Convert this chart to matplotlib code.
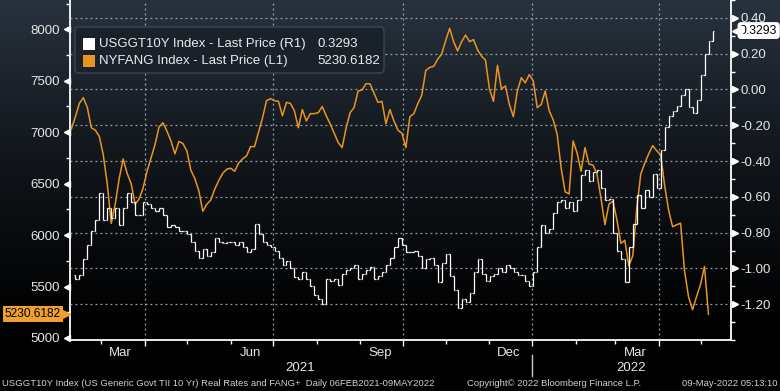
import numpy as np
import pandas as pd
import matplotlib
matplotlib.use("Agg")
import matplotlib.pyplot as plt
import matplotlib.dates as mdates
from matplotlib.patches import FancyBboxPatch, Rectangle
from matplotlib.transforms import blended_transform_factory as btf, offset_copy, IdentityTransform
from matplotlib.ticker import MultipleLocator, FixedLocator

plt.rcParams['font.family'] = ['Liberation Sans', 'DejaVu Sans']
plt.rcParams['axes.unicode_minus'] = False

# ---------------- data ----------------
usggt_start, usggt_end = '2021-02-08', '2022-05-09'
nyfang_start, nyfang_end = '2021-02-08', '2022-05-06'

nyfang = [7033, 7150, 7280, 7336, 7240, 7043, 7020, 6960, 6780, 6500,
          6114, 6300, 6550, 6740, 6600, 6500, 6300, 6350, 6456, 6620,
          6750, 6880, 7050, 7092, 7010, 6915, 6789, 6910, 6890, 6818,
          6630, 6550, 6430, 6232, 6300, 6340, 6446, 6530, 6600, 6640,
          6650, 6620, 6700, 6740, 6770, 6860, 6860, 7000, 7140, 7306,
          7326, 7306, 7300, 7160, 7290, 7280, 7209, 7043, 7220, 7110,
          7180, 7180, 7190, 7250, 7160, 7080, 6990, 6900, 6850, 7043,
          7190, 7240, 7400, 7410, 7472, 7470, 7380, 7290, 7300, 7082,
          7220, 7110, 7020, 6990, 6850, 7150, 7180, 7277, 7360, 7600,
          7630, 7640, 7710, 7760, 7890, 8010, 7880, 7790, 7880, 7945,
          7880, 7900, 7800, 7740, 7700, 7420, 7300, 7650, 7420, 7450,
          7270, 7150, 7400, 7530, 7480, 7560, 7500, 7238, 7270, 7400,
          7209, 7120, 6980, 6652, 6420, 6400, 6915, 6800, 6620, 6850,
          6690, 6680, 6593, 6360, 6100, 6300, 6330, 6150, 5920, 5950,
          5700, 5800, 6261, 6593, 6700, 6789, 6870, 6820, 6780, 6480,
          6240, 6080, 6100, 6115, 5650, 5400, 5274, 5400, 5519, 5694,
          5230.6182]

usggt = [-1.035, -1.06, -1.035, -0.945, -0.87, -0.79, -0.73, -0.58, -0.73, -0.66,
         -0.72, -0.66, -0.76, -0.66, -0.58, -0.63, -0.70, -0.70, -0.63, -0.64,
         -0.66, -0.68, -0.66, -0.70, -0.77, -0.76, -0.77, -0.79, -0.79, -0.81,
         -0.85, -0.90, -0.94, -0.89, -0.93, -0.91, -0.83, -0.85, -0.86, -0.85,
         -0.85, -0.87, -0.85, -0.88, -0.91, -0.89, -0.75, -0.81, -0.85, -0.87,
         -0.88, -0.90, -0.94, -0.98, -0.96, -1.00, -1.05, -1.06, -1.02, -1.06,
         -1.10, -1.15, -1.17, -1.20, -1.06, -1.07, -1.06, -1.09, -1.03, -1.01,
         -1.00, -0.98, -1.06, -1.03, -1.01, -0.99, -1.06, -1.04, -1.02, -0.98,
         -0.94, -0.88, -0.83, -0.87, -0.91, -0.91, -0.90, -0.93, -1.00, -0.95,
         -0.94, -0.98, -1.075, -0.97, -0.92, -1.04, -1.12, -1.22, -1.17, -1.19,
         -1.14, -1.02, -0.945, -1.03, -1.07, -1.04, -1.03, -1.00, -1.02, -0.98,
         -1.00, -1.02, -1.035, -1.035, -1.07, -1.10, -1.02, -0.88, -0.76, -0.80,
         -0.78, -0.69, -0.63, -0.62, -0.66, -0.63, -0.68, -0.62, -0.48, -0.45,
         -0.51, -0.46, -0.45, -0.55, -0.62, -0.61, -0.80, -0.90, -0.95, -1.075,
         -0.88, -0.75, -0.59, -0.66, -0.56, -0.60, -0.47, -0.55, -0.34, -0.21,
         -0.15, -0.12, -0.09, -0.03, 0.00, -0.10, -0.13, -0.06, 0.08, 0.20,
         0.27, 0.3293]

left_ticks = [5000, 5500, 6000, 6500, 7000, 7500, 8000]
right_ticks = [0.40, 0.20, 0.00, -0.20, -0.40, -0.60, -0.80, -1.00, -1.20]
month_labels = ['Mar', 'Jun', 'Sep', 'Dec', 'Mar']
month_label_dates = ['2021-03-15', '2021-06-15', '2021-09-15', '2021-12-15', '2022-03-15']
year_labels = ['2021', '2022']
year_label_dates = ['2021-07-20', '2022-03-12']
year_break = '2022-01-01'
quarter_starts = ['2021-04-01', '2021-07-01', '2021-10-01', '2022-01-01', '2022-04-01']
x_range = ('2021-02-07', '2022-05-22')

legend_rows = [('USGGT10Y Index - Last Price (R1)', f'{usggt[-1]:.4f}', 'white'),
               ('NYFANG Index - Last Price (L1)', f'{nyfang[-1]:.4f}', '#e8951f')]
footer_left = 'USGGT10Y Index (US Generic Govt TII 10 Yr) Real Rates and FANG+  Daily 06FEB2021-09MAY2022'
footer_mid = 'Copyright\u00a9 2022 Bloomberg Finance L.P.'
footer_right = '09-May-2022 05:13:10'

# ---------------- figure ----------------
W, H = 780, 391
fig = plt.figure(figsize=(W / 100, H / 100), dpi=100)
fig.patch.set_facecolor('black')

bg = fig.add_axes([0, 0, 1, 1], zorder=-10)
rows = np.arange(H)
t = np.clip(rows / 340.0, 0, 1)
top = np.array([40, 50, 62]) / 255.0
col = top[None, :] * (1 - t[:, None]) ** 1.3
bg.imshow(col[:, None, :], aspect='auto', extent=[0, 1, 0, 1])
bg.set_axis_off()

ax = fig.add_axes([70 / W, (H - 340) / H, (731 - 70) / W, 340 / H])
ax.set_facecolor('none')
ax2 = ax.twinx()
ax2.set_facecolor('none')

orange = '#e8951f'
grid_col = '#9aa3ad'

d_or = pd.date_range(nyfang_start, nyfang_end, periods=len(nyfang))
d_us = pd.date_range(usggt_start, usggt_end, periods=len(usggt))

ax.plot(d_or, nyfang, color=orange, lw=1.1, zorder=3)

v = np.array(usggt)
prev = v[:-1]
cur = v[1:]
dd = d_us[1:]
tick = pd.Timedelta(days=1.1)
ax2.vlines(dd, np.minimum(prev, cur), np.maximum(prev, cur), color='white', lw=0.9)
ax2.hlines(prev, dd - tick, dd, color='white', lw=0.9)
ax2.hlines(cur, dd, dd + tick, color='white', lw=0.9)

ax.set_xlim(pd.Timestamp(x_range[0]), pd.Timestamp(x_range[1]))
ax.set_ylim(4980, 8285)
ax2.set_ylim(-1.40, 0.50)

# grids
for q in quarter_starts:
    ax.axvline(pd.Timestamp(q), color=grid_col, lw=0.9, ls=(0, (1.5, 2.5)), zorder=1)
for r in right_ticks + [-1.40]:
    ax2.axhline(r, color=grid_col, lw=0.9, ls=(0, (1.5, 2.5)), zorder=0)

# spines
for a in (ax, ax2):
    a.spines['top'].set_visible(False)
ax.spines['right'].set_visible(False)
ax2.spines['left'].set_visible(False)
ax2.spines['bottom'].set_visible(False)
for s in ('left', 'bottom'):
    ax.spines[s].set_color('white'); ax.spines[s].set_linewidth(1.3)
ax2.spines['right'].set_color('white'); ax2.spines['right'].set_linewidth(1.3)

# y ticks
ax.yaxis.set_major_locator(FixedLocator(left_ticks))
ax.yaxis.set_minor_locator(MultipleLocator(250))
ax.set_yticklabels([str(v_) for v_ in left_ticks])
ax.tick_params(axis='y', which='major', length=0, pad=7, labelsize=9.5, labelcolor='#e6e6e6')
ax.tick_params(axis='y', which='minor', length=3, width=1, color='white', direction='out')

ax2.yaxis.set_major_locator(FixedLocator(right_ticks))
ax2.yaxis.set_minor_locator(MultipleLocator(0.1))
ax2.set_yticklabels([f'{r:.2f}' for r in right_ticks])
ax2.tick_params(axis='y', which='major', length=0, pad=7, labelsize=9.5, labelcolor='#e6e6e6')
ax2.tick_params(axis='y', which='minor', length=3, width=1, color='white', direction='out')

# triangle tick marks
trL = offset_copy(btf(ax.transAxes, ax.transData), fig=fig, x=-3.5, y=0, units='dots')
ax.plot([0] * len(left_ticks), left_ticks, ls='none', marker='<', ms=5, color='white',
        transform=trL, clip_on=False)
trR = offset_copy(btf(ax2.transAxes, ax2.transData), fig=fig, x=3.5, y=0, units='dots')
ax2.plot([1] * len(right_ticks), right_ticks, ls='none', marker='>', ms=5, color='white',
         transform=trR, clip_on=False)

# x ticks
ax.xaxis.set_major_locator(FixedLocator(mdates.date2num(pd.to_datetime(quarter_starts))))
ax.xaxis.set_minor_locator(mdates.MonthLocator())
ax.tick_params(axis='x', which='both', labelbottom=False, color='white', direction='out')
ax.tick_params(axis='x', which='major', length=4, width=1)
ax.tick_params(axis='x', which='minor', length=3, width=1)

tx = btf(ax.transData, ax.transAxes)
for lab, d in zip(month_labels, month_label_dates):
    ax.text(pd.Timestamp(d), -0.037, lab, transform=tx, ha='center', va='center',
            fontsize=9.5, color='#e6e6e6')
for lab, d in zip(year_labels, year_label_dates):
    ax.text(pd.Timestamp(d), -0.082, lab, transform=tx, ha='center', va='center',
            fontsize=9.5, color='#e6e6e6')
ax.plot([pd.Timestamp(year_break)] * 2, [-0.045, -0.105], transform=tx, color='#cccccc',
        lw=1, clip_on=False)

# legend box
leg = FancyBboxPatch((75, H - 73), 309, 46, boxstyle='round,pad=0,rounding_size=4',
                     transform=IdentityTransform(), facecolor='#19212a', edgecolor='#3b4654',
                     lw=1.0, zorder=5)
fig.add_artist(leg)
for i, (name, val, c) in enumerate(legend_rows):
    yc = H - (44 + 17 * i)
    fig.add_artist(Rectangle((83, yc - 6), 12, 12, transform=IdentityTransform(),
                             facecolor=c, edgecolor='none', zorder=6))
    fig.text(99 / W, yc / H, name, ha='left', va='center', fontsize=9.5, color='#ececec', zorder=7)
    fig.text(317 / W, yc / H, val, ha='left', va='center', fontsize=9.5, color='#ececec', zorder=7)

# last value tags
trRt = btf(ax2.transAxes, ax2.transData)
ax2.text(1.0, usggt[-1], f'{usggt[-1]:.4f}',
         transform=offset_copy(trRt, fig=fig, x=9, y=0, units='dots'),
         ha='left', va='center', fontsize=8.8, color='black', zorder=10, clip_on=False,
         bbox=dict(boxstyle='round,pad=0.2,rounding_size=0.3', fc='white', ec='none'))
ax2.plot([1.0], [usggt[-1]], marker='<', ms=7, color='white',
         transform=offset_copy(trRt, fig=fig, x=6, y=0, units='dots'), clip_on=False, zorder=10)

trLt = btf(ax.transAxes, ax.transData)
ax.text(0.0, nyfang[-1], f'{nyfang[-1]:.4f}',
        transform=offset_copy(trLt, fig=fig, x=-9, y=0, units='dots'),
        ha='right', va='center', fontsize=8.6, color='black', zorder=10, clip_on=False,
        bbox=dict(boxstyle='square,pad=0.15', fc='#f0a030', ec='none'))
ax.plot([0.0], [nyfang[-1]], marker='>', ms=7, color='#f0a030',
        transform=offset_copy(trLt, fig=fig, x=-5, y=0, units='dots'), clip_on=False, zorder=10)

# footer
fy = (H - 383) / H
fig.text(2 / W, fy, footer_left, ha='left', va='center', fontsize=6.8, color='#d0d0d0')
fig.text(467 / W, fy, footer_mid, ha='left', va='center', fontsize=6.8, color='#d0d0d0')
fig.text(778 / W, fy, footer_right, ha='right', va='center', fontsize=6.8, color='#d0d0d0')

fig.savefig('out.png', dpi=100, facecolor=fig.get_facecolor())
